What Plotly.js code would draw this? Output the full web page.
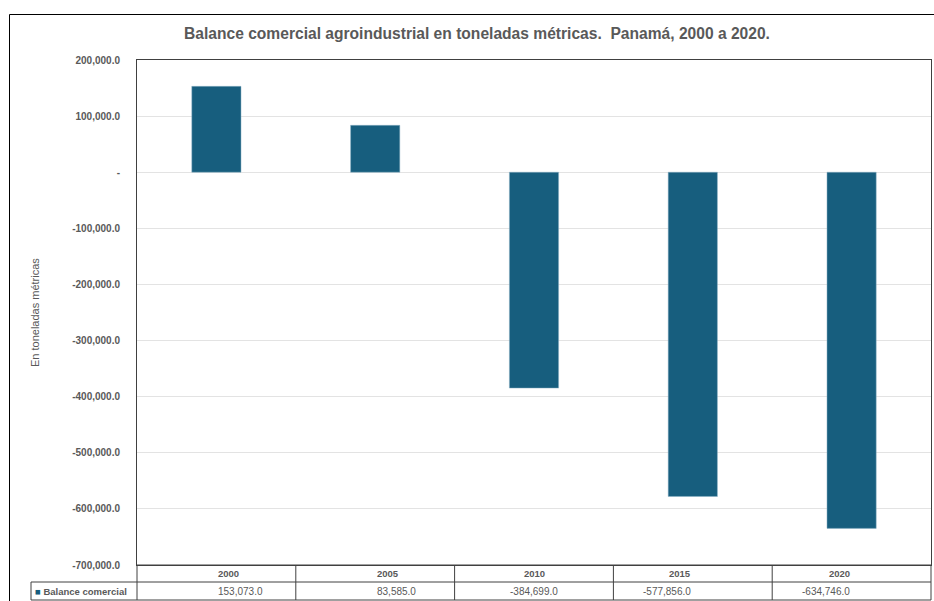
<!DOCTYPE html>
<html>
<head>
<meta charset="utf-8">
<script src="https://cdn.plot.ly/plotly-3.0.1.min.js"></script>
<style>html,body{margin:0;padding:0;background:#fff;}#chart{width:934px;height:601px;}</style>
</head>
<body>
<div id="chart"></div>
<script>
const years = ["2000", "2005", "2010", "2015", "2020"];
const balance = [153073.0, 83585.0, -384699.0, -577856.0, -634746.0];
const seriesName = "Balance comercial";
const yTicks = [200000, 100000, 0, -100000, -200000, -300000, -400000, -500000, -600000, -700000];
const chartTitle = "Balance comercial agroindustrial en toneladas métricas.  Panamá, 2000 a 2020.";
const yTitle = "En toneladas métricas";

const W = 934, H = 601;
const mL = 137, mR = 3, mT = 60, mB = 36;
const plotW = W - mL - mR, plotH = H - mT - mB;
const px2x = p => (p - mL) / plotW;
const py2y = p => (H - mB - p) / plotH;

const fmt = v => v.toLocaleString('en-US', {minimumFractionDigits: 1, maximumFractionDigits: 1});
const barColor = "#175E7E";
const gray = "#595959";
const lineCol = "#404040";

const trace = {
  type: 'bar', x: years, y: balance, name: seriesName,
  marker: {color: barColor, line: {color: "#8fb3c7", width: 0.5}},
  width: 0.31, hoverinfo: 'x+y'
};

const shapes = [];
const annotations = [];
const rowTop = py2y(565), rowMid = py2y(582), rowBot = py2y(600);
const tableLeft = px2x(31);
const hline = (x0, x1, y) => shapes.push({type: 'line', xref: 'paper', yref: 'paper', x0: x0, x1: x1, y0: y, y1: y, line: {color: lineCol, width: 1}});
const vline = (x, y0, y1) => shapes.push({type: 'line', xref: 'paper', yref: 'paper', x0: x, x1: x, y0: y0, y1: y1, line: {color: lineCol, width: 1}});

hline(0, 1, rowTop);
hline(tableLeft, 1, rowMid);
hline(tableLeft, 1, rowBot);
vline(tableLeft, rowMid, rowBot);
vline(0, rowTop, rowBot);
for (let i = 1; i < years.length; i++) vline(i / years.length, rowTop, rowBot);
vline(1, rowTop, rowBot);

// outer chart frame
shapes.push({type: 'line', xref: 'paper', yref: 'paper', x0: px2x(9.5), x1: px2x(934), y0: py2y(14.5), y1: py2y(14.5), line: {color: '#000', width: 1}});
shapes.push({type: 'line', xref: 'paper', yref: 'paper', x0: px2x(9.5), x1: px2x(9.5), y0: py2y(14.5), y1: py2y(601), line: {color: '#000', width: 1}});

years.forEach((yr, i) => {
  const xc = (i + 0.5) / years.length;
  annotations.push({xref: 'paper', yref: 'paper', x: xc, y: (rowTop + rowMid) / 2, text: '<b>' + yr + '</b>', showarrow: false, yanchor: 'middle', font: {family: 'Liberation Sans, Arial, sans-serif', size: 9.5, color: gray}});
  annotations.push({xref: 'paper', yref: 'paper', x: xc, y: (rowMid + rowBot) / 2, text: fmt(balance[i]), showarrow: false, yanchor: 'middle', font: {family: 'Liberation Sans, Arial, sans-serif', size: 10, color: gray}});
});
annotations.push({xref: 'paper', yref: 'paper', x: px2x(33), y: (rowMid + rowBot) / 2, xanchor: 'left', yanchor: 'middle', showarrow: false,
  text: '<span style="color:' + barColor + '">■</span> <b>' + seriesName + '</b>', font: {family: 'Liberation Sans, Arial, sans-serif', size: 9.5, color: gray}});
annotations.push({xref: 'paper', yref: 'paper', x: px2x(35), y: py2y(313), textangle: -90, showarrow: false, xanchor: 'center', yanchor: 'middle',
  text: yTitle, font: {family: 'Liberation Sans, Arial, sans-serif', size: 11, color: gray}});

const layout = {
  width: W, height: H,
  margin: {l: mL, r: mR, t: mT, b: mB, pad: 0},
  paper_bgcolor: '#fff', plot_bgcolor: '#fff',
  showlegend: false,
  title: {text: '<b>' + chartTitle + '</b>', xref: 'container', yref: 'container', x: 477 / W, y: 1 - 34 / H, xanchor: 'center', yanchor: 'middle',
    font: {family: 'Liberation Sans, Arial, sans-serif', size: 15.6, color: gray}},
  xaxis: {type: 'category', categoryarray: years, range: [-0.5, years.length - 0.5], autorange: false, showticklabels: false, ticks: '', showgrid: false, zeroline: false, showline: true, mirror: true, linecolor: lineCol, linewidth: 1, fixedrange: true},
  yaxis: {range: [-700000, 200000], autorange: false, tickvals: yTicks, ticktext: yTicks.map(v => v === 0 ? '-' : fmt(v)),
    tickfont: {family: 'Liberation Sans, Arial, sans-serif', size: 10, color: gray, weight: 'bold'},
    ticks: '', ticklabelstandoff: 14, showgrid: true, gridcolor: '#e3e3e3', gridwidth: 1, zeroline: false,
    showline: true, mirror: true, linecolor: lineCol, linewidth: 1, fixedrange: true},
  bargap: 0.69,
  shapes: shapes, annotations: annotations
};

Plotly.newPlot('chart', [trace], layout, {displayModeBar: false, staticPlot: true});
</script>
</body>
</html>
